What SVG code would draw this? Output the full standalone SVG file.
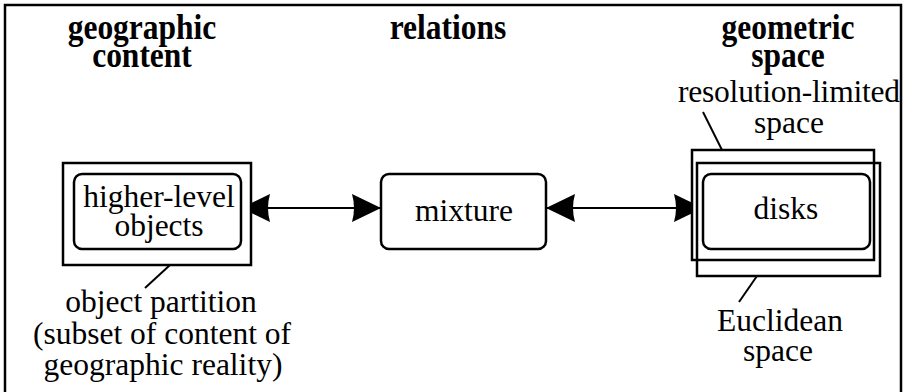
<svg xmlns="http://www.w3.org/2000/svg" width="904" height="392" viewBox="0 0 904 392" font-family="'Liberation Serif', 'DejaVu Serif', serif">
  <style>
    .frame { fill: none; stroke: #000; stroke-width: 2.5; }
    .box { fill: #fff; stroke: #000; stroke-width: 2.5; }
    .open { fill: none; stroke: #000; stroke-width: 2.5; }
    .rbox { fill: #fff; stroke: #000; stroke-width: 2.5; }
    .lead { fill: none; stroke: #000; stroke-width: 2; }
    .link { fill: none; stroke: #000; stroke-width: 2; marker-start: url(#head); marker-end: url(#head); }
    text { font-family: 'Liberation Serif', 'DejaVu Serif', serif; fill: #000; text-anchor: middle; }
    .lbl { font-size: 31.5px; }
    .ttl { font-size: 31.5px; font-weight: bold; }
  </style>
  <defs>
    <marker id="head" markerUnits="userSpaceOnUse" markerWidth="34" markerHeight="32" refX="31" refY="15" orient="auto-start-reverse" viewBox="0 0 34 32">
      <path d="M31,15 L2,1 Q6,15 2,29 Z" fill="#000"/>
    </marker>
  </defs>
  <rect width="904" height="392" fill="#fff"/>

  <!-- column headings, set slightly tall -->
  <g id="headings">
    <text class="ttl" transform="translate(142,39) scale(1,1.14)">geographic</text>
    <text class="ttl" transform="translate(142,67) scale(1,1.14)">content</text>
    <text class="ttl" transform="translate(448,39) scale(1,1.14)">relations</text>
    <text class="ttl" transform="translate(788,39) scale(1,1.14)">geometric</text>
    <text class="ttl" transform="translate(788,67) scale(1,1.14)">space</text>
  </g>

  <!-- connectors -->
  <g id="connectors">
    <line class="link" x1="241" y1="208" x2="381" y2="208"/>
    <line class="link" x1="546" y1="208" x2="703" y2="208"/>
    <line class="lead" x1="170" y1="265" x2="145" y2="288"/>
    <line class="lead" x1="703" y1="112" x2="722" y2="150"/>
    <line class="lead" x1="757" y1="276" x2="739" y2="302"/>
  </g>

  <!-- object partition holding higher-level objects -->
  <g id="objects">
    <rect class="box" x="63" y="163" width="188" height="102"/>
    <rect class="rbox" x="74" y="174" width="167" height="75" rx="8"/>
    <text class="lbl" x="159" y="207">higher-level</text>
    <text class="lbl" x="159" y="236">objects</text>
  </g>

  <g id="object-partition">
    <text class="lbl" x="161" y="312">object partition</text>
    <text class="lbl" x="162" y="344">(subset of content of</text>
    <text class="lbl" x="163" y="375">geographic reality)</text>
  </g>

  <g id="mixture">
    <rect class="rbox" x="381" y="174" width="165" height="75" rx="8"/>
    <text class="lbl" x="464" y="221">mixture</text>
  </g>

  <!-- disks inside two overlapping spaces -->
  <g id="disks">
    <rect class="box" x="692" y="150" width="182" height="110"/>
    <rect class="open" x="697" y="163" width="183" height="113"/>
    <rect class="rbox" x="703" y="174" width="167" height="75" rx="8"/>
    <text class="lbl" x="786" y="219">disks</text>
  </g>

  <g id="resolution-limited-space">
    <text class="lbl" x="789" y="102" textLength="222" lengthAdjust="spacing">resolution-limited</text>
    <text class="lbl" x="789" y="133">space</text>
  </g>

  <g id="euclidean-space">
    <text class="lbl" x="780" y="331">Euclidean</text>
    <text class="lbl" x="778" y="361">space</text>
  </g>

  <!-- outer frame, open at the bottom -->
  <path class="frame" d="M5,392 V5 H901 V392"/>
</svg>
